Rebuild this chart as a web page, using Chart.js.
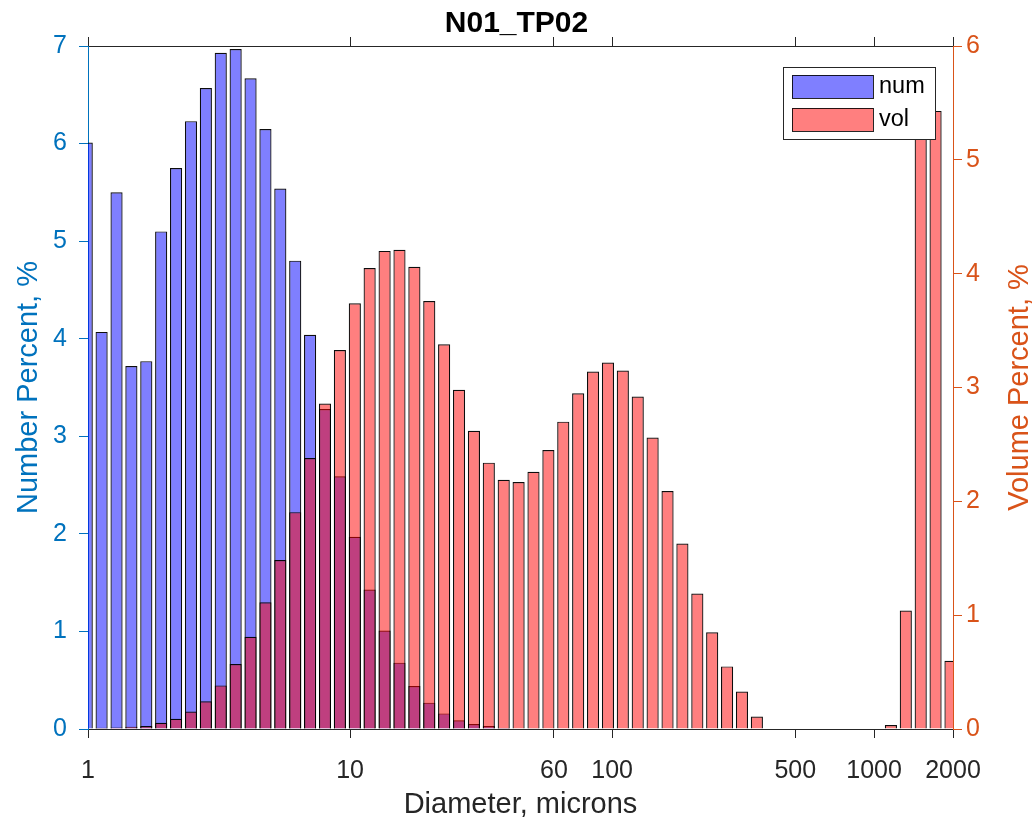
<!DOCTYPE html>
<html><head><meta charset="utf-8">
<script src="https://cdn.jsdelivr.net/npm/chart.js@4.4.1/dist/chart.umd.min.js"></script>
<style>html,body{margin:0;padding:0;background:#fff;} #wrap{width:1033px;height:822px;}</style>
</head><body><div id="wrap"><canvas id="c" width="1033" height="822"></canvas></div>
<script>
// Bin centre diameters (microns), log-spaced
const diameters = [0.989,1.127,1.285,1.464,1.669,1.902,2.168,2.472,2.817,3.211,
  3.660,4.172,4.755,5.419,6.177,7.040,8.024,9.147,10.43,11.88,
  13.55,15.44,17.60,20.06,22.86,26.06,29.70,33.85,38.59,43.98,
  50.13,57.14,65.12,74.23,84.60,96.44,109.9,125.3,142.8,162.8,
  185.5,211.5,241.0,274.7,313.1,356.9,406.8,463.7,528.5,602.4,
  686.6,782.6,892.0,1017,1159,1321,1506,1716,1956];
// Number percent (left axis)
const numPercent = [6.01,4.07,5.50,3.72,3.77,5.10,5.75,6.23,6.57,6.93,
  6.97,6.67,6.15,5.54,4.80,4.04,3.28,2.59,1.97,1.43,
  1.01,0.68,0.44,0.27,0.16,0.09,0.05,0.03,0.01,0.006,
  0.003,0,0,0,0,0,0,0,0,0,
  0,0,0,0,0,0,0,0,0,0,
  0,0,0,0,0,0,0,0,0];
// Volume percent (right axis)
const volPercent = [0.005,0.01,0.014,0.02,0.026,0.055,0.09,0.153,0.244,0.383,
  0.571,0.811,1.113,1.485,1.905,2.38,2.86,3.33,3.74,4.05,
  4.20,4.21,4.06,3.76,3.38,2.98,2.62,2.34,2.19,2.17,
  2.26,2.45,2.70,2.95,3.14,3.22,3.15,2.92,2.56,2.09,
  1.63,1.19,0.85,0.55,0.33,0.11,0,0,0,0,
  0,0,0,0,0.035,1.04,5.6,5.43,0.60];
const xTickValues = [1,10,60,100,500,1000,2000];
const seriesNames = ['num','vol'];
const titleText = 'N01_TP02';
const xTitle = 'Diameter, microns';
const yLeftTitle = 'Number Percent, %';
const yRightTitle = 'Volume Percent, %';

const BLUE = '#0072BD', ORANGE = '#D95319', DARK = '#262626';
const FONT = "'Liberation Sans', Arial, Helvetica, sans-serif";
Chart.defaults.font.family = FONT;

const pts = (vals) => diameters.map((d, i) => ({x: d, y: vals[i]}));
const setXTicks = (scale) => { scale.ticks = xTickValues.map(v => ({value: v})); };

const decorPlugin = {
  id: 'decor',
  afterDraw(chart) {
    const ctx = chart.ctx;
    ctx.save();
    // right axis title, reading bottom-to-top like MATLAB
    const y2 = chart.scales.y2;
    ctx.translate(1020, (y2.top + y2.bottom) / 2);
    ctx.rotate(-Math.PI / 2);
    ctx.fillStyle = ORANGE;
    ctx.font = '29px ' + FONT;
    ctx.textAlign = 'center';
    ctx.textBaseline = 'middle';
    ctx.fillText(yRightTitle, 0, 0);
    ctx.restore();

    // legend box
    const x0 = 783, y0 = 67, w = 152, h = 72;
    ctx.save();
    ctx.fillStyle = '#fff';
    ctx.fillRect(x0, y0, w, h);
    ctx.strokeStyle = DARK; ctx.lineWidth = 1;
    ctx.strokeRect(x0 + 0.5, y0 + 0.5, w, h);
    chart.data.datasets.forEach((ds, i) => {
      const sy = y0 + 8 + i * 33;
      ctx.fillStyle = ds.backgroundColor;
      ctx.fillRect(x0 + 9, sy, 81, 23);
      ctx.strokeStyle = 'rgba(0,0,0,0.85)';
      ctx.strokeRect(x0 + 9.5, sy + 0.5, 81, 23);
      ctx.fillStyle = '#000';
      ctx.font = '23.5px ' + FONT;
      ctx.textBaseline = 'middle';
      ctx.textAlign = 'left';
      ctx.fillText(ds.label, x0 + 96, sy + 12);
    });
    ctx.restore();
  }
};

new Chart(document.getElementById('c'), {
  type: 'bar',
  data: {
    datasets: [
      { label: seriesNames[0], data: pts(numPercent), yAxisID: 'y', xAxisID: 'x',
        backgroundColor: 'rgba(0,0,255,0.5)', borderColor: 'rgba(0,0,0,0.95)', borderWidth: 1.2,
        grouped: false, order: 1, clip: 0, barPercentage: 0.82, categoryPercentage: 1 },
      { label: seriesNames[1], data: pts(volPercent), yAxisID: 'y2', xAxisID: 'x',
        backgroundColor: 'rgba(255,0,0,0.5)', borderColor: 'rgba(0,0,0,0.95)', borderWidth: 1.2,
        grouped: false, order: 0, clip: 0, barPercentage: 0.82, categoryPercentage: 1 }
    ]
  },
  options: {
    responsive: false,
    animation: false,
    layout: { padding: 0 },
    plugins: {
      legend: { display: false },
      tooltip: { enabled: false },
      title: { display: true, text: titleText, color: '#000',
        font: { size: 30, weight: 'bold', lineHeight: 1 }, padding: { top: 9, bottom: 0 } }
    },
    scales: {
      x: {
        type: 'logarithmic', position: 'bottom', min: 1, max: 2000, z: 1, offset: false,
        afterBuildTicks: setXTicks,
        afterFit: (s) => { s.height = 93; },
        ticks: { color: DARK, font: { size: 25 }, padding: 18, maxRotation: 0, autoSkip: false,
          callback: (v) => String(v) },
        grid: { display: true, offset: false, drawOnChartArea: false, drawTicks: true, tickLength: 9, tickColor: DARK },
        border: { display: true, color: DARK, width: 1 },
        title: { display: true, text: xTitle, color: DARK, font: { size: 29 }, padding: { top: 0, bottom: 0 } }
      },
      x2: {
        type: 'logarithmic', position: 'top', min: 1, max: 2000, z: 1, offset: false,
        afterBuildTicks: setXTicks,
        afterFit: (s) => { s.height = 7; },
        ticks: { display: false },
        grid: { display: true, offset: false, drawOnChartArea: false, drawTicks: true, tickLength: 9, tickColor: DARK },
        border: { display: true, color: DARK, width: 1 }
      },
      y: {
        type: 'linear', position: 'left', min: 0, max: 7, z: 1,
        afterFit: (s) => { s.width = 88; },
        ticks: { stepSize: 1, color: BLUE, font: { size: 25 }, padding: 12 },
        grid: { display: true, drawOnChartArea: false, drawTicks: true, tickLength: 9, tickColor: BLUE },
        border: { display: true, color: BLUE, width: 1 },
        title: { display: true, text: yLeftTitle, color: BLUE, font: { size: 29 }, padding: { top: 12 } }
      },
      y2: {
        type: 'linear', position: 'right', min: 0, max: 6, z: 1,
        afterFit: (s) => { s.width = 80; },
        ticks: { stepSize: 1, color: ORANGE, font: { size: 25 }, padding: 4 },
        grid: { display: true, drawOnChartArea: false, drawTicks: true, tickLength: 9, tickColor: ORANGE },
        border: { display: true, color: ORANGE, width: 1 },
        title: { display: false }
      }
    }
  },
  plugins: [decorPlugin]
});
</script>
</body></html>
